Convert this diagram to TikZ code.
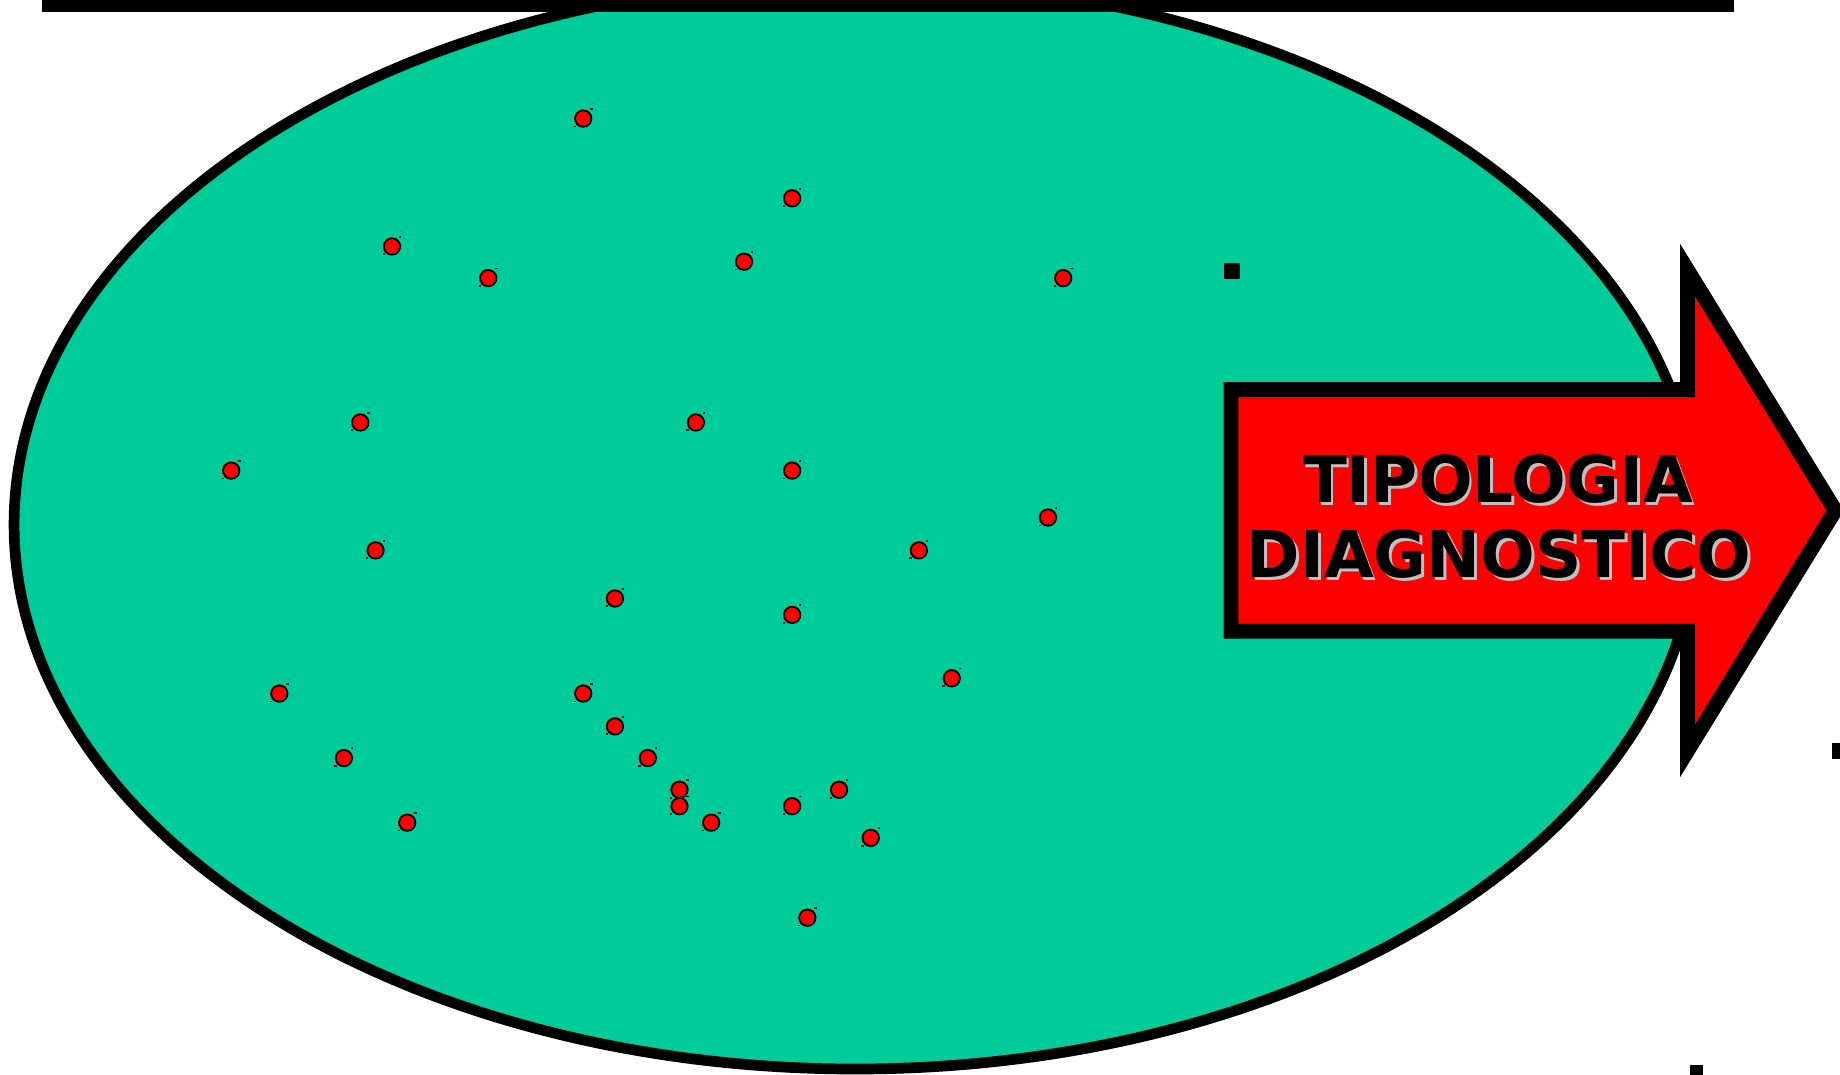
\documentclass[tikz,border=0pt]{standalone}
\usepackage{fontspec}
\usepackage{tikz}
\newfontfamily\arrowfont{DejaVu Sans}
\definecolor{plate}{HTML}{00CC99}
\definecolor{shade}{HTML}{C0C0C0}
\begin{document}
\begin{tikzpicture}[x=0.01cm,y=-0.01cm,
    dot/.style={circle,draw,fill=red,line width=0.45pt,inner sep=0pt,minimum size=0.14cm},
    arrowtext/.style={font=\arrowfont\bfseries\fontsize{15.6}{18}\selectfont,inner sep=0pt,anchor=base}]
    \useasboundingbox (0,0) rectangle (1568,916);
    \clip (0,0) rectangle (1568,916);
    % Green plate
    \draw[line width=2.6pt,fill=plate] (729,447) ellipse [x radius=717,y radius=464];
    % Bar along the top
    \fill (36,0) rectangle (1478,10);
    % Red points with their small handles
    \foreach \px/\py [count=\i] in {497/101, 675/169, 334/210, 416/237, 634/223, 906/237,
        307/360, 593/360, 197/401, 675/401, 893/441, 320/469, 783/469, 524/510, 675/524,
        238/591, 497/591, 811/578, 524/619, 293/646, 552/646, 579/673, 715/673, 579/687,
        675/687, 347/701, 606/701, 742/714, 688/782} {
        \node[dot] (dot\i) at (\px,\py) {};
        \fill (\px+6,\py-9) rectangle +(2,1.5);
        \fill (\px-8,\py+6) rectangle +(2,1.5);
    }
    % Arrow
    \draw[line width=3.6pt,fill=red,line join=miter]
        (1049,332) -- (1438,332) -- (1438,230) -- (1564,435)
        -- (1438,640) -- (1438,538) -- (1049,538) -- cycle;
    \node[arrowtext,text=shade] (tipologia shadow) at (1279,430.5) {TIPOLOGIA};
    \node[arrowtext,text=shade] (diagnostico shadow) at (1280,494.5) {DIAGNOSTICO};
    \node[arrowtext] (tipologia) at (1276.5,428) {TIPOLOGIA};
    \node[arrowtext] (diagnostico) at (1277.5,492) {DIAGNOSTICO};
    % Stray marks
    \fill (1043,224) rectangle (1057,238);
    \fill (1561,633) rectangle (1568,647);
    \fill (1440,908) rectangle (1451,916);
\end{tikzpicture}
\end{document}
